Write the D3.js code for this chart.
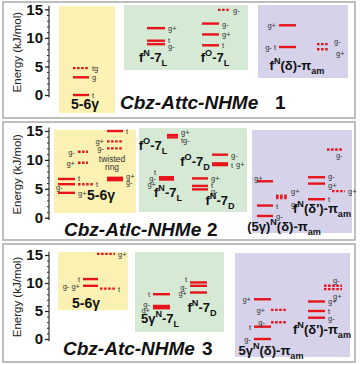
<!DOCTYPE html>
<html>
<head>
<meta charset="utf-8">
<script src="https://cdn.jsdelivr.net/npm/d3@7"></script>
<style>
  body { margin: 0; background: #fff; }
  text { font-family: "Liberation Sans", Arial, sans-serif; }
</style>
</head>
<body>
<div id="chart"></div>
<script>

// ### DATA

var yTicks = [0, 5, 10, 15];
var titles = ["Cbz-Attc-NHMe", "Cbz-Atlc-NHMe", "Cbz-Atc-NHMe"];
var titleNums = ["1", "2", "3"];

// [group, energy (kJ/mol), conformer label, dotted]
var levels1 = [
  ["a", 0, "t", 0], ["a", 3.1, "g", 0], ["a", 4.7, "tg", 1],
  ["b", 11.7, "g+", 0], ["b", 9.5, "t", 0], ["b", 8.9, "g-", 0],
  ["c", 12.5, "g-", 0], ["c", 10.6, "g+", 0], ["c", 8.7, "t", 0],
  ["cd", 14.9, "g-", 1],
  ["d", 12.2, "g+", 0], ["d", 8.4, "g- t", 0],
  ["dd", 8.9, "g-", 1], ["dd", 8.0, "g+", 1]
];

var levels2 = [
  ["a", 6.7, "t", 0], ["a", 5.8, "g-", 0], ["a", 4.3, "g+", 0],
  ["ad", 5.8, "t", 1],
  ["b", 11.4, "g-", 1], ["b", 9.5, "g+", 1],
  ["c", 15.0, "t", 0], ["c", 6.9, "g+", 0], ["c", 6.5, "g-", 0],
  ["cd", 13.2, "g+", 1], ["cd", 12.0, "g-", 1],
  ["e", 14.3, "g+", 0], ["e", 13.9, "tg-", 0],
  ["f", 7.0, "t", 0], ["f", 6.8, "g-", 0], ["f", 6.6, "g+", 0],
  ["g", 10.9, "g-", 0], ["g", 9.4, "t", 0], ["g", 9.1, "g+", 0],
  ["h", 6.8, "g+", 0], ["h", 5.5, "t", 0], ["h", 4.9, "g-", 0],
  ["i", 6.3, "g+", 0], ["i", 2.1, "t", 0], ["i", 0.3, "g-", 0],
  ["id", 3.8, "g+", 1], ["id", 3.4, "g-", 1],
  ["j", 7.0, "g-", 0], ["j", 5.9, "g+", 0], ["j", 3.2, "t", 0],
  ["jd", 4.6, "g+", 1],
  ["k", 11.8, "g-", 1]
];

var levels3 = [
  ["a", 15.2, "g+", 1],
  ["b", 10.7, "t", 0], ["b", 9.5, "g-  g+", 0],
  ["bd", 9.0, "t", 1],
  ["c", 8.0, "t", 0], ["c", 5.9, "g-", 0], ["c", 5.5, "g+", 0],
  ["d", 10.1, "t", 0], ["d", 9.5, "g-", 0], ["d", 8.3, "g+", 0],
  ["e", 7.1, "g+", 0], ["e", 2.2, "t", 0], ["e", 0.0, "g-", 0],
  ["ed", 5.2, "g+", 1], ["ed", 3.0, "g-", 1],
  ["f", 6.7, "g+", 0], ["f", 5.0, "t", 0], ["f", 3.8, "g-", 0],
  ["fd", 9.5, "g-", 1], ["fd", 8.9, "g+", 1]
];

// ### LAYOUT

var YELLOW = "#fbf1b3", GREEN = "#d6e9d5", PURPLE = "#d5d2ea", RED = "#e8141c";

var panels = [
  {
    top: 2, bottom: 118, y0: 95, y15: 9.3, levels: levels1,
    boxes: [[59, 6, 115, 113, YELLOW], [124, 5, 248, 70, GREEN], [258, 5, 348, 78, PURPLE]],
    groups: {a: [73, 89, "r"], b: [147, 165, "r"], c: [202, 219, "r"], cd: [218, 230, "r"],
             d: [279, 296, "l"], dd: [317, 329, "r"]},
    nudge: {"b|t": [0, -1], "b|g-": [0, 2], "dd|g-": [2, -3], "dd|g+": [4, 4]},
    captions: [["5-6γ", 85, 109, 14], ["f^{N}-7_{L}", 153, 62, 13], ["f^{O}-7_{L}", 215, 62, 13],
               ["f^{N}(δ)-π_{am}", 297, 70, 13]],
    title: [120, 109, 275]
  },
  {
    top: 122, bottom: 240, y0: 217.7, y15: 131, levels: levels2,
    boxes: [[54, 130, 136, 213, YELLOW], [139, 128, 247, 212, GREEN], [252, 130, 352, 233, PURPLE]],
    groups: {a: [58, 75, "r"], ad: [78, 93, "r"], b: [78, 88, "l"], c: [107, 123, "r"], cd: [107, 123, "l"],
             e: [167, 178, "r"], f: [159, 174, "l"], g: [212, 228, "r"], h: [192, 208, "r"],
             i: [257, 273, "r"], id: [276, 288, "r"], j: [308, 325, "r"], jd: [332, 345, "r"], k: [327, 343, "r"]},
    nudge: {"a|g-": [-22, 3], "a|t": [0, -1], "c|g+": [0, -2], "c|g-": [0, 2],
            "e|g+": [0, -3], "e|tg-": [0, 3], "f|t": [0, -5], "f|g+": [0, 4],
            "g|t": [0, 2], "g|g+": [5, -1], "h|t": [0, -1], "h|g-": [0, 2], "i|g+": [-22, -3],
            "id|g+": [0, -5], "id|g-": [0, 6], "j|g-": [0, -1], "j|g+": [0, 1], "k|g-": [-10, 6]},
    captions: [["5-6γ", 101, 200, 14], ["f^{O}-7_{L}", 153, 150, 13], ["f^{N}-7_{L}", 168, 197, 13],
               ["f^{O}-7_{D}", 195, 166, 13], ["f^{N}-7_{D}", 220, 205, 13],
               ["f^{N}(δ')-π_{am}", 322, 213, 13], ["(5γ)^{N}(δ)-π_{am}", 284, 231, 13]],
    small: [["twisted", 112, 162], ["ring", 112, 170]],
    title: [64, 236, 207]
  },
  {
    top: 244, bottom: 362, y0: 339, y15: 255, levels: levels3,
    boxes: [[58, 252, 128, 310, YELLOW], [135, 252, 224, 332, GREEN], [235, 253, 350, 357, PURPLE]],
    groups: {a: [97, 115, "r"], b: [83, 98, "l"], bd: [100, 115, "r"], c: [153, 170, "l"], d: [190, 207, "l"],
             e: [254, 271, "l"], ed: [271, 286, "l"], f: [308, 325, "r"], fd: [324, 342, "r"]},
    nudge: {"c|g-": [0, -2], "c|g+": [0, 2], "d|t": [0, -3], "d|g-": [0, 1], "ed|g+": [-3, 0], "ed|g-": [-3, 0],
            "fd|g-": [-12, -6], "fd|g+": [-12, 7]},
    captions: [["5-6γ", 86, 308, 14], ["5γ^{N}-7_{L}", 160, 323, 13], ["f^{N}-7_{D}", 202, 312, 13],
               ["f^{N}(δ')-π_{am}", 322, 334, 13], ["5γ^{N}(δ)-π_{am}", 271, 355, 13]],
    title: [63, 355, 202]
  }
];

var svg = d3.select("#chart").append("svg")
  .attr("width", 360)
  .attr("height", 365);

// writes "f^{N}-7_{L}" as text with super/sub scripts
function richText(sel, str, size) {
  var parts = str.split(/(\^\{[^}]*\}|_\{[^}]*\})/).filter(function(p) { return p.length; });
  var shift = 0;
  parts.forEach(function(p) {
    var target = 0, t = p, fs = size;
    if (p[0] === "^") { target = -size * 0.45; t = p.slice(2, -1); fs = size * 0.7; }
    if (p[0] === "_") { target = size * 0.3; t = p.slice(2, -1); fs = size * 0.7; }
    sel.append("tspan")
      .attr("dy", target - shift)
      .attr("font-size", fs)
      .text(t);
    shift = target;
  });
}

panels.forEach(function(p, pi) {
  var g = svg.append("g");

  // panel frame
  g.append("rect")
    .attr("x", 3).attr("y", p.top)
    .attr("width", 352).attr("height", p.bottom - p.top)
    .attr("fill", "none")
    .attr("stroke", "#a9a9a9")
    .attr("stroke-width", 1.5);

  // coloured backgrounds
  p.boxes.forEach(function(b) {
    g.append("rect")
      .attr("x", b[0]).attr("y", b[1])
      .attr("width", b[2] - b[0]).attr("height", b[3] - b[1])
      .attr("fill", b[4]);
  });

  var y = d3.scaleLinear().domain([0, 15]).range([p.y0, p.y15]);
  var names = Object.keys(p.groups);
  var xStart = d3.scaleOrdinal().domain(names).range(names.map(function(n) { return p.groups[n][0]; }));
  var xEnd = d3.scaleOrdinal().domain(names).range(names.map(function(n) { return p.groups[n][1]; }));

  // axis
  var axisG = g.append("g").attr("transform", "translate(49,0)");
  axisG.append("line")
    .attr("y1", y(15.6)).attr("y2", y(-0.4))
    .attr("stroke", "#222").attr("stroke-width", 1.2);
  axisG.call(d3.axisLeft(y).tickValues(d3.range(0, 16)).tickSize(2).tickFormat(""))
    .call(function(a) { a.select(".domain").remove(); a.selectAll("line").attr("stroke", "#333"); });
  var major = g.append("g").attr("transform", "translate(49,0)")
    .call(d3.axisLeft(y).tickValues(yTicks).tickSize(4).tickPadding(2));
  major.select(".domain").remove();
  major.selectAll("line").attr("stroke", "#222").attr("stroke-width", 1.2);
  major.selectAll("text")
    .attr("font-family", "'Liberation Sans', Arial, sans-serif")
    .attr("font-size", 15).attr("font-weight", "bold").attr("fill", "#111");

  g.append("text")
    .attr("transform", "translate(21," + ((p.y0 + p.y15) / 2) + ") rotate(-90)")
    .attr("text-anchor", "middle")
    .attr("font-size", 11.5)
    .attr("fill", "#222")
    .text("Energy (kJ/mol)");

  // energy levels
  g.selectAll("line.level")
    .data(p.levels)
    .enter().append("line")
    .attr("class", "level")
    .attr("x1", function(d) { return xStart(d[0]); })
    .attr("x2", function(d) { return xEnd(d[0]); })
    .attr("y1", function(d) { return y(d[1]); })
    .attr("y2", function(d) { return y(d[1]); })
    .attr("stroke", RED)
    .attr("stroke-width", 2.4)
    .attr("stroke-dasharray", function(d) { return d[3] ? "2.5,1.6" : null; });

  g.selectAll("text.conf")
    .data(p.levels)
    .enter().append("text")
    .attr("class", "conf")
    .attr("x", function(d) {
      var n = p.nudge[d[0] + "|" + d[2]] || [0, 0];
      var side = p.groups[d[0]][2];
      return (side === "r" ? xEnd(d[0]) + 3 : xStart(d[0]) - 3) + n[0];
    })
    .attr("y", function(d) {
      var n = p.nudge[d[0] + "|" + d[2]] || [0, 0];
      return y(d[1]) + 3 + n[1];
    })
    .attr("text-anchor", function(d) { return p.groups[d[0]][2] === "r" ? "start" : "end"; })
    .attr("font-size", 7.5)
    .attr("fill", "#333")
    .text(function(d) { return d[2]; });

  // captions
  p.captions.forEach(function(c) {
    var t = g.append("text")
      .attr("x", c[1]).attr("y", c[2])
      .attr("text-anchor", "middle")
      .attr("font-weight", "bold")
      .attr("font-size", c[3])
      .attr("fill", "#111");
    richText(t, c[0], c[3]);
  });
  (p.small || []).forEach(function(s) {
    g.append("text")
      .attr("x", s[1]).attr("y", s[2])
      .attr("text-anchor", "middle")
      .attr("font-size", 8.5)
      .attr("fill", "#333")
      .text(s[0]);
  });

  // title
  g.append("text")
    .attr("x", p.title[0]).attr("y", p.title[1])
    .attr("font-size", 19)
    .attr("font-weight", "bold")
    .attr("font-style", "italic")
    .attr("fill", "#111")
    .text(titles[pi]);
  g.append("text")
    .attr("x", p.title[2]).attr("y", p.title[1])
    .attr("font-size", 19)
    .attr("font-weight", "bold")
    .attr("fill", "#111")
    .text(titleNums[pi]);
});

</script>
</body>
</html>
